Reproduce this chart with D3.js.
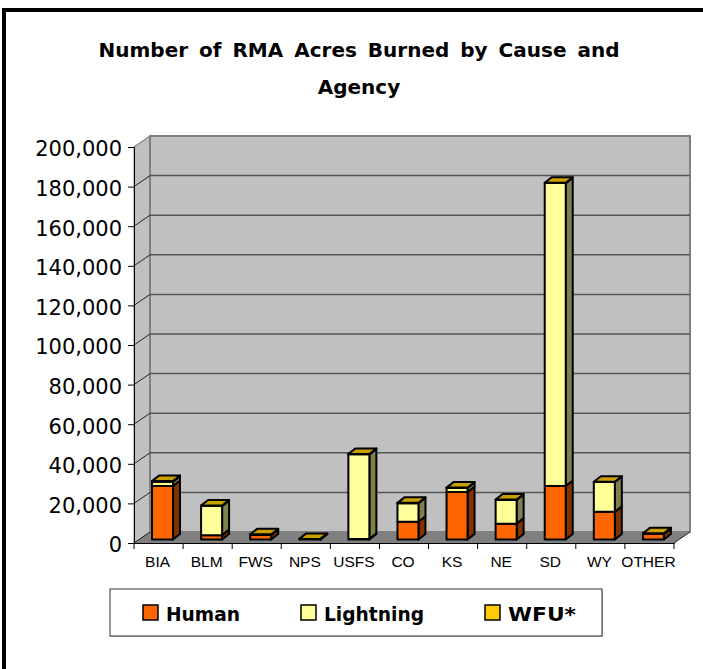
<!DOCTYPE html>
<meta charset="utf-8">
<script src="https://d3js.org/d3.v7.min.js"></script>
<style>
  html, body { margin: 0; padding: 0; background: #fff; }
  svg { display: block; }
  .num text { font-family: 'DejaVu Sans', sans-serif; font-size: 21px; fill: #000; }
  .cat text { font-family: 'Liberation Sans', Arial, sans-serif; font-size: 15.5px; fill: #000; }
  .title { font-family: 'DejaVu Sans', sans-serif; font-weight: bold; font-size: 20px; word-spacing: 4px; text-anchor: middle; }
  .legend text { font-family: 'DejaVu Sans', sans-serif; font-weight: bold; font-size: 20px; }
</style>
<body>
<svg width="703" height="669"></svg>
<script>
var categories = ["BIA", "BLM", "FWS", "NPS", "USFS", "CO", "KS", "NE", "SD", "WY", "OTHER"];
var human     = [27000, 2200, 2300, 0, 300, 9000, 24000, 8000, 27000, 14000, 2800];
var lightning = [2200, 14800, 0, 0, 42700, 9300, 2000, 12000, 153000, 15000, 0];
var wfu       = [300, 200, 300, 300, 200, 200, 200, 200, 200, 200, 300];
var yTicks = [0, 20000, 40000, 60000, 80000, 100000, 120000, 140000, 160000, 180000, 200000];

var keys = ["human", "lightning", "wfu"];
var names = {human: "Human", lightning: "Lightning", wfu: "WFU*"};
var front = {human: "#ff6600", lightning: "#ffff99", wfu: "#ffcc00"};
var side = {human: "#803300", lightning: "#80804d", wfu: "#806600"};
var topColor = "#c9a000";

var rows = categories.map(function(c, i) {
  return {cat: c, human: human[i], lightning: lightning[i], wfu: wfu[i]};
});

var svg = d3.select("svg");

// outer frame
svg.append("rect").attr("x", 4).attr("y", 10).attr("width", 703).attr("height", 670)
  .attr("fill", "#fff").attr("stroke", "#000").attr("stroke-width", 4);

svg.selectAll(".title").data(["Number of RMA Acres Burned by Cause and", "Agency"])
  .enter().append("text").attr("class", "title")
  .attr("x", 359)
  .attr("y", function(d, i) { return 57 + i * 37; })
  .text(function(d) { return d; });

// front plane scales, back wall is shifted by wall offset
var x = d3.scaleBand().domain(categories).range([134, 674]);
var y = d3.scaleLinear().domain([0, 200000]).range([543, 147]);
var wall = {dx: 16, dy: -11};
var bar = {offset: 18, width: 21, dx: 7, dy: -5.5, lift: -3.5};

function pts(a) { return a.map(function(p) { return p.join(","); }).join(" "); }

// side wall, back wall, floor
svg.append("polygon").attr("fill", "#c0c0c0").attr("stroke", "#808080").attr("stroke-width", 1)
  .attr("points", pts([[134, y(200000)], [134 + wall.dx, y(200000) + wall.dy], [134 + wall.dx, y(0) + wall.dy], [134, y(0)]]));
svg.append("rect").attr("fill", "#c0c0c0").attr("stroke", "#808080").attr("stroke-width", 2)
  .attr("x", 134 + wall.dx).attr("y", y(200000) + wall.dy)
  .attr("width", 540).attr("height", y(0) - y(200000));
svg.append("polygon").attr("fill", "#808080")
  .attr("points", pts([[134, y(0)], [134 + wall.dx, y(0) + wall.dy], [674 + wall.dx, y(0) + wall.dy], [674, y(0)]]));

// gridlines
var grid = svg.append("g").attr("fill", "none");
yTicks.slice(1).forEach(function(t) {
  if (t < 200000) grid.append("line")
    .attr("x1", 134 + wall.dx).attr("x2", 674 + wall.dx)
    .attr("y1", y(t) + wall.dy).attr("y2", y(t) + wall.dy)
    .attr("stroke", "#555").attr("stroke-width", 1.5);
});
yTicks.forEach(function(t) {
  grid.append("line")
    .attr("x1", 134).attr("x2", 134 + wall.dx)
    .attr("y1", y(t)).attr("y2", y(t) + wall.dy)
    .attr("stroke", t == 200000 ? "#808080" : "#222").attr("stroke-width", 1);
});
svg.append("line").attr("x1", 674).attr("x2", 674 + wall.dx)
  .attr("y1", y(0)).attr("y2", y(0) + wall.dy).attr("stroke", "#222");

// bars
var stacked = d3.stack().keys(keys)(rows);
var barLayer = svg.append("g").attr("stroke", "#000").attr("stroke-width", 2).attr("stroke-linejoin", "round");

categories.forEach(function(c, i) {
  var x0 = x(c) + bar.offset, x1 = x0 + bar.width;
  stacked.forEach(function(s) {
    var lo = y(s[i][0]) + bar.lift, hi = y(s[i][1]) + bar.lift;
    barLayer.append("polygon").attr("fill", side[s.key])
      .attr("points", pts([[x1, lo], [x1 + bar.dx, lo + bar.dy], [x1 + bar.dx, hi + bar.dy], [x1, hi]]));
    barLayer.append("rect").attr("fill", front[s.key])
      .attr("x", x0).attr("y", hi).attr("width", bar.width).attr("height", lo - hi);
    if (s.key == "wfu") {
      barLayer.append("polygon").attr("fill", topColor)
        .attr("points", pts([[x0, hi], [x1, hi], [x1 + bar.dx, hi + bar.dy], [x0 + bar.dx, hi + bar.dy]]));
    }
  });
});

// axes
var yAxis = svg.append("g").attr("class", "num").attr("transform", "translate(134,0)")
  .call(d3.axisLeft(y).tickValues(yTicks).tickSize(6).tickPadding(6).tickFormat(d3.format(",")));
yAxis.selectAll("line,path").attr("stroke", "#000");
yAxis.selectAll("text").attr("dy", "0.42em");

var xAxis = svg.append("g").attr("class", "cat").attr("transform", "translate(0,543)")
  .call(d3.axisBottom(x).tickSize(0).tickPadding(13));
xAxis.select("path").attr("stroke", "#000");
xAxis.selectAll(".tick text").attr("dx", -1);
xAxis.selectAll(".edge").data(d3.range(0, categories.length + 1))
  .enter().append("line").attr("class", "edge").attr("stroke", "#000")
  .attr("x1", function(d) { return 134 + d * x.step(); })
  .attr("x2", function(d) { return 134 + d * x.step(); })
  .attr("y1", 0).attr("y2", 6);

// legend
var lg = svg.append("g").attr("class", "legend");
lg.append("rect").attr("x", 111).attr("y", 590).attr("width", 492).attr("height", 47).attr("fill", "#bbb");
lg.append("rect").attr("x", 110).attr("y", 589).attr("width", 492).attr("height", 47)
  .attr("fill", "#fff").attr("stroke", "#333").attr("stroke-width", 1);
var legendX = {human: 143, lightning: 301, wfu: 485};
var legendW = {human: 74, lightning: 100, wfu: 68};
keys.forEach(function(k) {
  lg.append("rect").attr("x", legendX[k]).attr("y", 605).attr("width", 15).attr("height", 15)
    .attr("fill", front[k]).attr("stroke", "#000").attr("stroke-width", 1.5);
  lg.append("text").attr("x", legendX[k] + 23).attr("y", 621)
    .attr("textLength", legendW[k]).attr("lengthAdjust", "spacingAndGlyphs").text(names[k]);
});
</script>
</body>
